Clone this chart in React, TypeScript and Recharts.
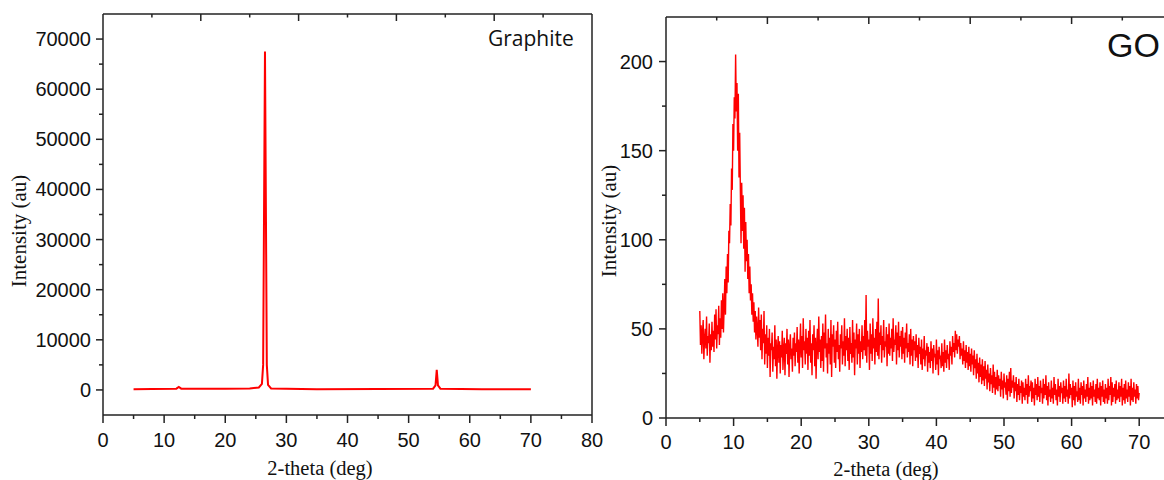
import React from 'react';
import { LineChart, Line, XAxis, YAxis } from 'recharts';

// Graphite scan: 2-theta (deg) and intensity (au)
const graphiteTheta = [5, 8, 12, 12.4, 12.8, 20, 24, 25.5, 26, 26.2, 26.5, 26.8, 27, 27.5, 35, 45, 54, 54.4, 54.6, 54.8, 55.2, 62, 70];
const graphiteIntensity = [150, 200, 250, 600, 250, 250, 300, 500, 1200, 5000, 67500, 5000, 1000, 300, 150, 200, 250, 900, 4000, 900, 250, 150, 150];

// GO scan, one reading every 0.1 deg from 5 to 70
const goStart = 5;
const goStep = 0.1;
const goIntensity = [
  60, 41, 52, 36, 48, 55, 33, 44, 50, 39, 57, 35, 46, 42, 53, 31, 47, 38, 54, 40,
  49, 37, 58, 44, 61, 39, 52, 47, 63, 41, 56, 45, 66, 50, 70, 48, 62, 78, 58, 85,
  70, 92, 76, 105, 98, 120, 108, 140, 128, 165, 150, 180, 168, 204, 172, 188, 150, 182, 135, 160,
  128, 98, 132, 105, 125, 95, 118, 82, 110, 88, 100, 78, 92, 70, 85, 66, 75, 58, 70, 54,
  65, 48, 60, 44, 57, 50, 40, 62, 45, 55, 38, 58, 33, 50, 42, 60, 30, 47, 36, 52,
  28, 45, 35, 50, 23, 42, 38, 48, 26, 40, 33, 52, 29, 44, 22, 39, 46, 31, 43, 25,
  41, 34, 49, 27, 38, 45, 24, 42, 36, 50, 30, 44, 23, 40, 47, 33, 39, 26, 45, 35,
  48, 29, 42, 37, 51, 31, 44, 25, 40, 53, 34, 46, 28, 56, 38, 43, 30, 50, 36, 45,
  27, 49, 35, 55, 31, 42, 24, 47, 38, 52, 29, 45, 22, 41, 50, 33, 57, 37, 44, 28,
  46, 32, 53, 26, 48, 39, 58, 34, 42, 25, 50, 36, 45, 30, 55, 23, 47, 40, 52, 31,
  44, 28, 49, 37, 54, 33, 41, 26, 47, 39, 52, 30, 43, 35, 56, 29, 46, 38, 50, 32,
  45, 27, 51, 36, 42, 31, 55, 34, 48, 24, 44, 39, 53, 30, 47, 36, 50, 28, 43, 37,
  52, 33, 46, 38, 55, 35, 69, 31, 49, 40, 44, 27, 53, 36, 47, 32, 56, 39, 45, 30,
  50, 37, 54, 35, 67, 33, 48, 41, 52, 31, 46, 38, 55, 34, 43, 40, 51, 29, 47, 36,
  53, 35, 45, 39, 50, 32, 56, 37, 44, 41, 52, 30, 48, 38, 54, 34, 46, 40, 49, 33,
  51, 36, 45, 31, 48, 39, 53, 34, 42, 37, 47, 30, 50, 35, 44, 29, 46, 38, 43, 32,
  47, 34, 41, 28, 45, 36, 40, 30, 44, 27, 39, 33, 46, 29, 38, 35, 42, 26, 40, 31,
  37, 28, 43, 32, 39, 25, 41, 34, 36, 27, 44, 30, 38, 24, 40, 33, 35, 28, 42, 29,
  37, 26, 44, 31, 38, 28, 41, 33, 36, 27, 43, 35, 40, 30, 46, 37, 42, 34, 49, 38,
  47, 36, 44, 40, 46, 33, 42, 35, 39, 30, 43, 32, 38, 28, 41, 31, 37, 27, 40, 29,
  36, 26, 39, 30, 35, 24, 38, 28, 33, 22, 36, 25, 31, 20, 34, 23, 30, 19, 33, 21,
  29, 18, 32, 22, 27, 16, 30, 20, 25, 15, 28, 19, 24, 14, 30, 17, 26, 13, 23, 16,
  27, 15, 24, 18, 22, 12, 26, 16, 21, 11, 25, 17, 20, 13, 24, 10, 22, 15, 26, 12,
  28, 14, 21, 17, 24, 11, 20, 15, 23, 9, 19, 13, 22, 10, 18, 14, 21, 8, 20, 12,
  17, 10, 22, 13, 19, 8, 24, 12, 18, 15, 21, 9, 20, 11, 17, 7, 22, 13, 19, 10,
  23, 12, 18, 9, 21, 14, 17, 8, 22, 11, 19, 13, 24, 10, 18, 7, 20, 12, 16, 9,
  21, 11, 17, 8, 23, 13, 19, 10, 16, 7, 22, 12, 18, 9, 20, 14, 17, 8, 21, 11,
  18, 9, 22, 12, 16, 8, 25, 11, 19, 13, 17, 6, 21, 10, 18, 7, 20, 12, 15, 9,
  22, 10, 17, 8, 20, 13, 18, 7, 21, 11, 16, 9, 19, 12, 23, 8, 17, 10, 20, 11,
  18, 7, 21, 12, 16, 9, 19, 8, 22, 11, 17, 10, 20, 7, 18, 12, 21, 9, 16, 8,
  19, 11, 17, 8, 22, 10, 18, 13, 23, 7, 20, 9, 17, 12, 19, 8, 21, 10, 16, 11,
  20, 9, 18, 12, 22, 7, 17, 10, 19, 8, 21, 11, 16, 9, 20, 12, 18, 7, 22, 10,
  17, 9, 20, 12, 16, 8, 19, 11, 18, 10, 14,
];

// tick positions
const graphiteYTicks = [0, 5000, 10000, 15000, 20000, 25000, 30000, 35000, 40000, 45000, 50000, 55000, 60000, 65000, 70000];
const graphiteRightTicks = [3000, 11000, 19000, 27000, 35000, 43000, 51000, 59000, 67000];
const graphiteXTicks = [0, 5, 10, 15, 20, 25, 30, 35, 40, 45, 50, 55, 60, 65, 70, 75, 80];
const graphiteTopTicks = [8, 16, 24, 32, 40, 48, 56, 64, 72];
const goYTicks = [0, 25, 50, 75, 100, 125, 150, 175, 200];
const goXTicks = [0, 5, 10, 15, 20, 25, 30, 35, 40, 45, 50, 55, 60, 65, 70];
const goTopTicks = [7.5, 15, 22.5, 30, 37.5, 45, 52.5, 60, 67.5];

const graphiteData = graphiteTheta.map((x, i) => ({ x, y: graphiteIntensity[i] }));
const goData = goIntensity.map((y, i) => ({ x: +(goStart + i * goStep).toFixed(1), y }));

const AXIS = '#222';
const RED = '#ff0000';
const SANS = '"Liberation Sans", Arial, sans-serif';
const SERIF = '"Liberation Serif", "Times New Roman", serif';

type Side = 'left' | 'right' | 'top' | 'bottom';

const AxisTick = (props: any) => {
  const { x, y, payload, side, isMajor, showLabel, gap } = props;
  const v = payload.value;
  const major = isMajor(v);
  const s: Side = side;
  if (s === 'left') {
    const len = major ? 7 : 4;
    return (
      <g>
        <line x1={x} x2={x - len} y1={y} y2={y} stroke={AXIS} strokeWidth={1.5} />
        {showLabel && major && (
          <text x={x - gap} y={y} textAnchor="end" dominantBaseline="central" fontSize={20} fontFamily={SANS} fill="#111">
            {v}
          </text>
        )}
      </g>
    );
  }
  if (s === 'bottom') {
    const len = major ? 8 : 4;
    return (
      <g>
        <line x1={x} x2={x} y1={y} y2={y + len} stroke={AXIS} strokeWidth={1.5} />
        {showLabel && major && (
          <text x={x} y={y + gap} textAnchor="middle" dominantBaseline="central" fontSize={20} fontFamily={SANS} fill="#111">
            {v}
          </text>
        )}
      </g>
    );
  }
  if (s === 'top') {
    const len = major ? 7 : 3.5;
    return <line x1={x} x2={x} y1={y} y2={y + len} stroke={AXIS} strokeWidth={1.5} />;
  }
  const len = major ? 8 : 3.5;
  return <line x1={x} x2={x - len} y1={y} y2={y} stroke={AXIS} strokeWidth={1.5} />;
};

const axisLine = { stroke: AXIS, strokeWidth: 1.5 };

export default function App() {
  return (
    <div style={{ position: 'absolute', left: 0, top: 0, width: 1164, height: 480, overflow: 'hidden', background: '#fff' }}>
      {/* Graphite */}
      <LineChart
        width={620}
        height={480}
        data={graphiteData}
        margin={{ top: 14, right: 28, bottom: 0, left: 0 }}
        style={{ position: 'absolute', left: 0, top: 0 }}
      >
        <XAxis
          dataKey="x"
          type="number"
          domain={[0, 80]}
          ticks={graphiteXTicks}
          interval={0}
          height={65}
          tickSize={0}
          tickMargin={0}
          tickLine={false}
          axisLine={axisLine}
          tick={(p: any) => <AxisTick {...p} side="bottom" isMajor={(v: number) => v % 10 === 0} showLabel gap={25} />}
        />
        <XAxis
          xAxisId="top"
          orientation="top"
          mirror
          dataKey="x"
          type="number"
          domain={[0, 80]}
          ticks={graphiteTopTicks}
          interval={0}
          tickSize={0}
          tickMargin={0}
          tickLine={false}
          axisLine={axisLine}
          tick={(p: any) => <AxisTick {...p} side="top" isMajor={(v: number) => v % 16 === 0} />}
        />
        <YAxis
          type="number"
          domain={[-5000, 75000]}
          ticks={graphiteYTicks}
          interval={0}
          width={103}
          tickSize={0}
          tickMargin={0}
          tickLine={false}
          axisLine={axisLine}
          tick={(p: any) => <AxisTick {...p} side="left" isMajor={(v: number) => v % 10000 === 0} showLabel gap={12} />}
        />
        <YAxis
          yAxisId="right"
          orientation="right"
          mirror
          type="number"
          domain={[-5000, 75000]}
          ticks={graphiteRightTicks}
          interval={0}
          width={10}
          tickSize={0}
          tickMargin={0}
          tickLine={false}
          axisLine={axisLine}
          tick={(p: any) => <AxisTick {...p} side="right" isMajor={(v: number) => (v - 11000) % 16000 === 0} />}
        />
        <Line type="linear" dataKey="y" stroke={RED} strokeWidth={2} dot={false} activeDot={false} isAnimationActive={false} />
      </LineChart>

      {/* GO */}
      <LineChart
        width={620}
        height={480}
        data={goData}
        margin={{ top: 17, right: 7, bottom: 0, left: 0 }}
        style={{ position: 'absolute', left: 560, top: 0 }}
      >
        <XAxis
          dataKey="x"
          type="number"
          domain={[0, 75]}
          ticks={goXTicks}
          interval={0}
          height={62}
          tickSize={0}
          tickMargin={0}
          tickLine={false}
          axisLine={axisLine}
          tick={(p: any) => <AxisTick {...p} side="bottom" isMajor={(v: number) => v % 10 === 0} showLabel gap={24} />}
        />
        <XAxis
          xAxisId="top"
          orientation="top"
          mirror
          dataKey="x"
          type="number"
          domain={[0, 75]}
          ticks={goTopTicks}
          interval={0}
          tickSize={0}
          tickMargin={0}
          tickLine={false}
          axisLine={axisLine}
          tick={(p: any) => <AxisTick {...p} side="top" isMajor={(v: number) => v % 15 === 0} />}
        />
        <YAxis
          type="number"
          domain={[0, 225]}
          ticks={goYTicks}
          interval={0}
          width={106}
          tickSize={0}
          tickMargin={0}
          tickLine={false}
          axisLine={axisLine}
          tick={(p: any) => <AxisTick {...p} side="left" isMajor={(v: number) => v % 50 === 0} showLabel gap={13} />}
        />
        <Line type="linear" dataKey="y" stroke={RED} strokeWidth={1.4} dot={false} activeDot={false} isAnimationActive={false} />
      </LineChart>

      {/* titles and axis labels */}
      <svg width={1164} height={480} style={{ position: 'absolute', left: 0, top: 0, pointerEvents: 'none' }}>
        <text x={488} y={46} fontSize={21} fontFamily='"Open Sans", sans-serif' fill="#111">Graphite</text>
        <text x={1107} y={57} fontSize={34} fontFamily={SANS} fill="#111">GO</text>
        <text transform="translate(25.5, 231) rotate(-90)" textAnchor="middle" fontSize={21} fontFamily={SERIF} fill="#111">Intensity (au)</text>
        <text transform="translate(615.5, 221) rotate(-90)" textAnchor="middle" fontSize={21} fontFamily={SERIF} fill="#111">Intensity (au)</text>
        <text x={320} y={475} textAnchor="middle" fontSize={20.5} fontFamily={SERIF} fill="#111">2-theta (deg)</text>
        <text x={886} y={476} textAnchor="middle" fontSize={20.5} fontFamily={SERIF} fill="#111">2-theta (deg)</text>
      </svg>
    </div>
  );
}
